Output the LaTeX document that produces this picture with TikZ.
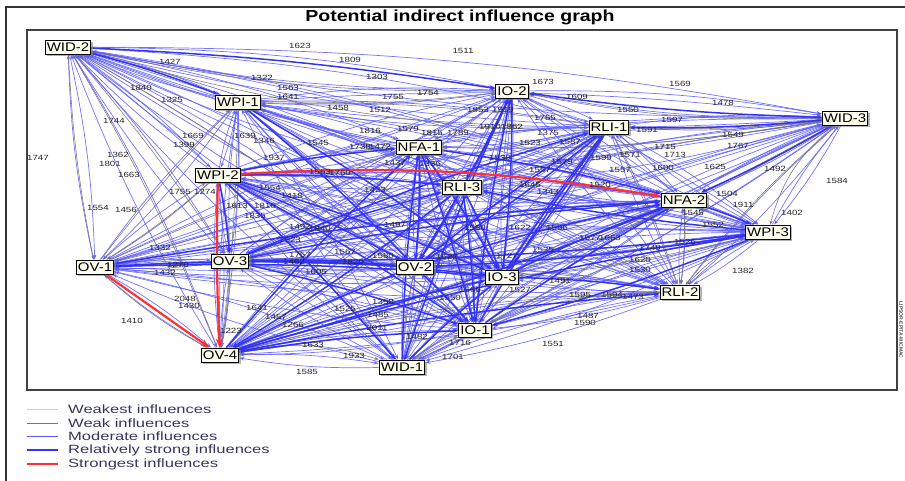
\documentclass[tikz,border=0pt]{standalone}
\usepackage{fontspec}
\setmainfont{Liberation Sans}
\newfontfamily\nodefont[FakeStretch=1.2]{Liberation Sans}
\newfontfamily\labfont[FakeStretch=1.3]{Liberation Sans}
\newfontfamily\legfont[FakeStretch=1.38]{Liberation Sans}
\newfontfamily\ttlfont[FakeStretch=1.22]{Liberation Sans}
\usetikzlibrary{shadows,arrows.meta,backgrounds}
\definecolor{modblue}{HTML}{5A5AFF}
\definecolor{strblue}{HTML}{3434F0}
\definecolor{weakgray}{HTML}{767676}
\definecolor{weakestgray}{HTML}{D0D0D0}
\definecolor{nodefill}{HTML}{FFFFF0}
\definecolor{legtext}{HTML}{35355E}
\definecolor{strred}{HTML}{FF3030}
\begin{document}
\begin{tikzpicture}[x=1pt,y=-1pt,
  gnode/.style={draw=black, line width=1pt, fill=nodefill, inner sep=1.6pt,
    minimum height=14pt, font=\nodefont\fontsize{12.5}{13}\selectfont,
    drop shadow={shadow xshift=2pt, shadow yshift=-2pt, fill=black!50, opacity=0.6}},
  elab/.style={font=\labfont\fontsize{7.5}{8}\selectfont, inner sep=0pt, text=black!85},
  modedge/.style={draw=modblue, line width=0.7pt, opacity=0.85, -{Stealth[length=5pt,width=3.5pt]}},
  stredge/.style={draw=strblue, line width=1.5pt, -{Stealth[length=6pt,width=4.5pt]}},
  weakedge/.style={draw=weakgray, line width=0.55pt, -{Stealth[length=4pt,width=3pt]}},
  rededge/.style={draw=strred, line width=2.2pt, -{Stealth[length=9pt,width=7pt]}},
  legline/.style={line width=1pt},
  legtxt/.style={anchor=west, inner sep=0pt, text=legtext, font=\legfont\fontsize{12}{12}\selectfont}
]
\useasboundingbox (0,0) rectangle (905,480);
% frames
\draw[line width=1.2pt, black!80] (6,490) -- (6,7) -- (915,7);
\draw[line width=1.2pt, black!75] (27,30) rectangle (897,390);
\node[font=\ttlfont\bfseries\fontsize{16}{16}\selectfont, inner sep=0pt] (title) at (460,17) {Potential indirect influence graph};
\node[rotate=-90, font=\fontsize{5}{5}\selectfont\bfseries, inner sep=0pt, text=black!70] (stamp) at (901,330) {LIPSOR-EPITA-MICMAC};

% nodes
\foreach \n/\x/\y/\t in {
  wid2/68/47/WID-2, wpi1/238/102/WPI-1, io2/512/91/IO-2, rli1/609/127/RLI-1,
  wid3/845/118/WID-3, nfa1/419/147/NFA-1, wpi2/218/175/WPI-2, rli3/462/187/RLI-3,
  nfa2/684/200/NFA-2, wpi3/768/232/WPI-3, ov1/95/267/OV-1, ov3/230/261/OV-3,
  ov2/415/267/OV-2, io3/502/277/IO-3, rli2/680/292/RLI-2, io1/475/330/IO-1,
  ov4/220/355/OV-4, wid1/402/367/WID-1}
  \node[gnode] (\n) at (\x,\y) {\t};

\begin{scope}[on background layer]
% moderate influences: every pair, both directions
\foreach \a [count=\i] in {wid2,wpi1,io2,rli1,wid3,nfa1,wpi2,rli3,nfa2,wpi3,ov1,ov3,ov2,io3,rli2,io1,ov4,wid1}{
  \foreach \b [count=\j] in {wid2,wpi1,io2,rli1,wid3,nfa1,wpi2,rli3,nfa2,wpi3,ov1,ov3,ov2,io3,rli2,io1,ov4,wid1}{
    \ifnum\i<\j
      \draw[modedge] (\a) to[bend left=5] (\b);
      \draw[modedge] (\b) to[bend left=5] (\a);
    \fi
  }
}
% weak influences
\foreach \a/\b/\bend in {wid2/wid3/-10, wid2/io2/-6, wid3/io2/6, wid3/rli1/4, wid3/wpi3/-18,
  wid3/rli2/-6, wid3/io3/4, wid3/nfa1/5, wid2/ov1/-4, wid2/ov3/3, wid2/ov4/4, wid2/io1/5,
  wpi1/ov4/3, ov1/ov4/-6, ov4/wid1/14, wid1/io1/10, wid1/rli2/14, io1/wpi3/10,
  ov4/rli2/6, wpi3/rli2/-12, wpi1/io2/-4, wpi1/rli1/4, ov1/wpi1/3, ov1/nfa1/4,
  ov3/ov4/3, nfa2/rli2/4, rli1/rli2/3, wpi3/io3/4, wid1/ov2/3, ov1/wid3/3, wpi2/ov1/4}
  \draw[weakedge] (\a) to[bend left=\bend] (\b);
% relatively strong influences
\foreach \a/\b in {wpi2/nfa1, wpi2/rli3, wpi2/ov2, wpi2/io3, wpi2/io1, wpi2/ov3, wpi2/wid1,
  nfa1/ov2, nfa1/io3, nfa1/io1, nfa1/nfa2, rli3/ov2, rli3/io1, rli3/io3, rli3/ov4,
  ov3/ov2, ov3/io3, ov3/nfa2, ov3/rli1, ov2/io1, ov2/nfa2, io3/nfa2, io3/rli2,
  io1/nfa2, io1/rli1, io2/ov2, io2/io3, io2/rli3, rli1/io3, rli1/ov2, nfa2/wpi3,
  nfa2/ov4, ov4/io3, ov4/nfa1, ov4/ov2, ov4/rli2, wid1/io2, wid1/nfa1, wid1/io3,
  ov1/ov2, ov1/io3, ov1/nfa2, wpi1/io3, wpi1/ov2, wid2/wpi1, wid2/io2, wid3/io2,
  wid3/rli1, wid3/nfa2, wpi3/ov2, wpi3/io1, wpi3/ov3, ov3/io1, ov4/io1,
  ov3/rli3, ov2/rli1, io3/rli1, ov4/wpi3, io1/io2, wpi3/rli3}
  \draw[stredge] (\a) to[bend left=3] (\b);
% strongest influences
\draw[rededge] (wpi2) to[bend left=6] (nfa2);
\draw[rededge] (wpi2) to[bend right=2] (ov4);
\draw[rededge] (ov1) -- (ov4);
\end{scope}

% edge labels
\foreach \x/\y/\t [count=\k] in {
 300/46/1623, 463/51/1511, 350/60/1809, 377/77/1303, 170/62/1427, 262/78/1322,
 288/88/1563, 288/97/1641, 141/88/1840, 172/100/1325, 114/121/1744, 193/136/1669,
 184/145/1399, 38/158/1747, 118/155/1362, 110/164/1801, 129/175/1663, 245/136/1639,
 264/141/1346, 274/158/1937, 98/208/1554, 126/210/1456, 132/321/1410, 185/299/2048,
 189/306/1430, 231/331/1223, 160/248/1332, 178/265/1270, 165/273/1432, 237/206/1613,
 265/206/1816, 255/216/1835, 393/97/1755, 428/93/1754, 380/110/1512, 543/82/1673,
 577/97/1609, 338/108/1458, 680/84/1569, 723/103/1478, 628/110/1550, 672/120/1597,
 647/130/1591, 733/135/1549, 665/147/1715, 675/155/1713, 738/146/1767, 715/167/1625,
 775/169/1492, 837/181/1584, 727/194/1504, 743/205/1911, 792/213/1402, 663/168/1600,
 743/271/1382, 693/213/1545, 713/225/1552, 685/242/1526, 633/297/1473, 588/316/1487,
 585/323/1590, 553/344/1551, 453/357/1701, 460/343/1716, 417/337/1482, 354/356/1933,
 307/372/1585, 313/345/1633, 560/281/1491, 377/328/2011, 383/302/1358, 345/309/1525,
 378/315/1485, 507/256/1727, 257/308/1641, 276/317/1457, 293/325/1266,
 370/131/1816, 408/129/1579, 432/133/1815, 458/133/1789, 490/127/1910, 512/127/1862,
 478/110/1953, 503/110/1919, 545/118/1755, 548/133/1375, 570/142/1587, 360/147/1738,
 380/147/1472, 318/143/1545, 530/143/1523, 562/162/1579, 601/158/1599, 630/155/1571,
 620/170/1557, 600/185/1520, 540/170/1557, 530/185/1645, 548/192/1343, 340/173/1760,
 320/172/1563, 375/190/1423, 395/163/1437, 430/164/1336, 500/158/1530,
 300/227/1492, 320/229/1840, 290/240/1523, 300/255/1757, 345/252/1567, 395/225/1497,
 475/228/1580, 520/228/1622, 557/228/1596, 590/238/1577, 316/272/1605, 294/262/1462,
 353/262/1820, 383/256/1580, 447/257/1622, 470/290/1566, 450/298/1550, 543/250/1535,
 580/295/1595, 612/295/1594, 520/290/1527, 610/238/1663, 640/260/1620, 640/270/1530,
 650/248/1749, 270/188/1554, 292/196/1418, 180/192/1755, 205/192/1274}
  \node[elab] (lab\k) at (\x,\y) {\t};

% legend
\coordinate (lg1a) at (27,409); \coordinate (lg1b) at (58,409);
\coordinate (lg2a) at (27,423); \coordinate (lg2b) at (58,423);
\coordinate (lg3a) at (27,436); \coordinate (lg3b) at (58,436);
\coordinate (lg4a) at (27,450); \coordinate (lg4b) at (58,450);
\coordinate (lg5a) at (27,464); \coordinate (lg5b) at (58,464);
\draw[legline, weakestgray, line width=0.6pt] (lg1a) -- (lg1b);
\draw[legline, weakgray, line width=0.6pt] (lg2a) -- (lg2b);
\draw[legline, modblue, line width=0.7pt] (lg3a) -- (lg3b);
\draw[legline, strblue, line width=1.3pt] (lg4a) -- (lg4b);
\draw[legline, strred, line width=1.3pt] (lg5a) -- (lg5b);
\node[legtxt] (lt1) at (68,409) {Weakest influences};
\node[legtxt] (lt2) at (68,423) {Weak influences};
\node[legtxt] (lt3) at (68,436) {Moderate influences};
\node[legtxt] (lt4) at (68,450) {Relatively strong influences};
\node[legtxt] (lt5) at (68,464) {Strongest influences};
\end{tikzpicture}
\end{document}
